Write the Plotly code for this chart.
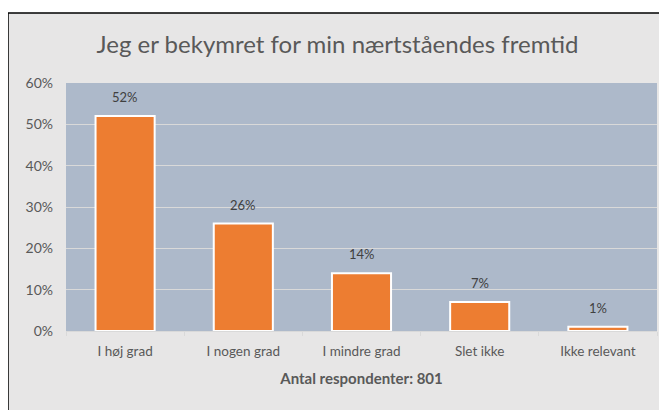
import plotly.graph_objects as go

categories = ["I høj grad", "I nogen grad", "I mindre grad", "Slet ikke", "Ikke relevant"]
values = [0.52, 0.26, 0.14, 0.07, 0.01]
labels = ["52%", "26%", "14%", "7%", "1%"]
title_text = "Jeg er bekymret for min nærtståendes fremtid"
xaxis_title = "Antal respondenter: 801"

# page body has an 8px margin, so the figure is sized/offset to compensate
OFF = 8
W, H = 667 - OFF, 410 - OFF
L, R, T, B = 66 - OFF, 10, 83 - OFF, 79
pw, ph = W - L - R, H - T - B
FONT = "Lato, Open Sans, sans-serif"

def px(x):
    return (x - OFF - L) / pw

def py(y):
    return (H - B - (y - OFF)) / ph

fig = go.Figure()
fig.add_trace(go.Bar(
    x=categories, y=values,
    marker=dict(color="#ED7D31", line=dict(color="white", width=2)),
    width=0.5, cliponaxis=False,
))

for c, v, t in zip(categories, values, labels):
    fig.add_annotation(x=c, y=v, text=t, showarrow=False, yanchor="bottom", yshift=9,
                       font=dict(family=FONT, size=13, color="#404040"))

fig.add_shape(type="rect", xref="paper", yref="paper",
              x0=px(8), x1=px(680), y0=py(420), y1=py(13),
              fillcolor="#E7E6E6", line=dict(color="black", width=1.5), layer="below")
fig.add_shape(type="rect", xref="paper", yref="paper",
              x0=0, x1=1, y0=0, y1=1,
              fillcolor="#ADB9CA", line=dict(width=0), layer="below")

fig.update_layout(
    width=W, height=H,
    margin=dict(l=L, r=R, t=T, b=B, autoexpand=False),
    paper_bgcolor="white", plot_bgcolor="rgba(0,0,0,0)",
    showlegend=False,
    title=dict(text=title_text, x=0.5, xanchor="center", y=1 - (45 - OFF) / H, yanchor="middle",
               font=dict(family=FONT, size=24, color="#595959")),
    xaxis=dict(
        title=dict(text="<b>" + xaxis_title + "</b>", standoff=15,
                   font=dict(family=FONT, size=15, color="#595959")),
        tickfont=dict(family=FONT, size=13.5, color="#595959"),
        showgrid=False, showline=True, linecolor="#D9D9D9", linewidth=1,
        ticks="outside", tickson="boundaries", ticklen=4, tickcolor="#D9D9D9",
        automargin=False, layer="above traces", ticklabelstandoff=8,
    ),
    yaxis=dict(
        range=[0, 0.6], dtick=0.1, tickformat=".0%",
        tickfont=dict(family=FONT, size=14, color="#595959"),
        gridcolor="#D9D9D9", gridwidth=1, zeroline=False, ticklen=0, ticks="",
        automargin=False, ticklabelstandoff=12,
    ),
    bargap=0.5,
)

fig.write_html("out.html")
